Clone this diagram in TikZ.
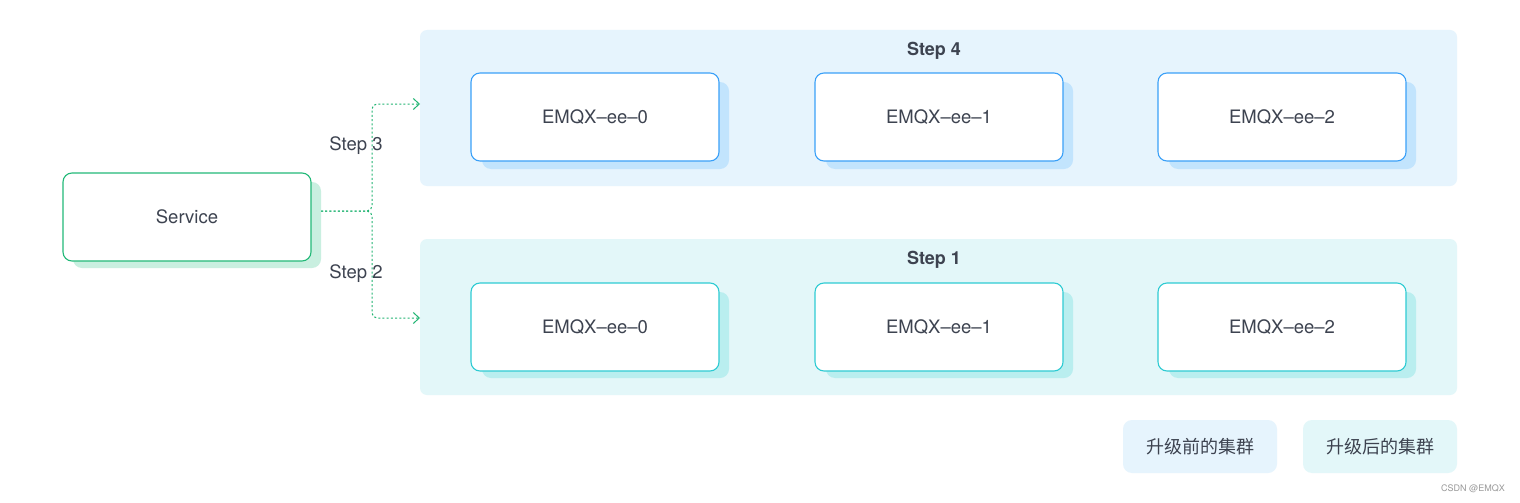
\documentclass[tikz,border=0pt]{standalone}
\usepackage{fontspec}
\setmainfont{TeX Gyre Heros}
\newfontfamily\cjk{Noto Sans CJK SC}
\usetikzlibrary{arrows.meta}
\definecolor{txt}{HTML}{3D4350}
\definecolor{bluepanel}{HTML}{E6F4FD}
\definecolor{cyanpanel}{HTML}{E3F7F9}
\definecolor{blueborder}{HTML}{3AA0F8}
\definecolor{blueshadow}{HTML}{C2E4FD}
\definecolor{cyanborder}{HTML}{2ECBD3}
\definecolor{cyanshadow}{HTML}{B9EEEF}
\definecolor{greenborder}{HTML}{22B978}
\definecolor{greenshadow}{HTML}{C9EFE0}
\definecolor{flowgreen}{HTML}{22B573}
\tikzset{
  x=1pt,y=-1pt,
  panel/.style={rounded corners=7pt, draw=none},
  boxnode/.style={draw, line width=1.1pt, fill=white, rounded corners=9pt, minimum width=248pt, minimum height=88pt, inner sep=0pt, font=\fontsize{18.5}{22}\selectfont, text=txt},
  shadowbox/.style={rounded corners=9pt, draw=none},
  flow/.style={draw=flowgreen, line width=1pt, dash pattern=on 2pt off 2.2pt, rounded corners=5pt},
  tip/.style={-{Straight Barb[length=6pt,width=11pt,line width=1pt]}},
  lbl/.style={font=\fontsize{18.5}{22}\selectfont, text=txt, inner sep=0pt},
  steplbl/.style={font=\fontsize{18}{22}\selectfont\bfseries, text=txt, inner sep=0pt},
  legend/.style={rounded corners=9pt, minimum width=154pt, minimum height=53pt, inner sep=0pt, font=\cjk\fontsize{18}{22}\selectfont, text=txt}
}
\begin{document}
\begin{tikzpicture}
\useasboundingbox[fill=white] (0,0) rectangle (1520,503);
% panels
\fill[panel, bluepanel] (420,30) rectangle (1457,186);
\fill[panel, cyanpanel] (420,239) rectangle (1457,395);
\node[steplbl] (s4) at (934,51) {Step 4};
\node[steplbl] (s1) at (934,260) {Step 1};
% shadows
\foreach \xx in {482,826,1169} {
  \fill[shadowbox, blueshadow] (\xx,82) rectangle ++(247,87);
  \fill[shadowbox, cyanshadow] (\xx,292) rectangle ++(247,86);
}
\fill[shadowbox, greenshadow] (73,182) rectangle (321,268);
% boxes
\node[boxnode, draw=blueborder] (t0) at (595,117) {EMQX–ee–0};
\node[boxnode, draw=blueborder] (t1) at (939,117) {EMQX–ee–1};
\node[boxnode, draw=blueborder] (t2) at (1282,117) {EMQX–ee–2};
\node[boxnode, draw=cyanborder] (b0) at (595,327) {EMQX–ee–0};
\node[boxnode, draw=cyanborder] (b1) at (939,327) {EMQX–ee–1};
\node[boxnode, draw=cyanborder] (b2) at (1282,327) {EMQX–ee–2};
\node[boxnode, draw=greenborder] (svc) at (187,217) {Service};
% connectors
\coordinate (start) at (321,211);
\coordinate (up) at (420,104);
\coordinate (dn) at (420,318);
\draw[flow, tip] (start) -| (372,104) -- (up);
\draw[flow, tip] (start) -| (372,318) -- (dn);
\node[lbl] (l3) at (356,146) {Step 3};
\node[lbl] (l2) at (356,274) {Step 2};
% legend
\node[legend, fill=bluepanel] (lg1) at (1200,446.5) {升级前的集群};
\node[legend, fill=cyanpanel] (lg2) at (1380,446.5) {升级后的集群};
\node[font=\fontsize{9}{10}\selectfont, text=gray!80, inner sep=0pt] (wm) at (1473,489) {CSDN @EMQX};
\end{tikzpicture}
\end{document}
